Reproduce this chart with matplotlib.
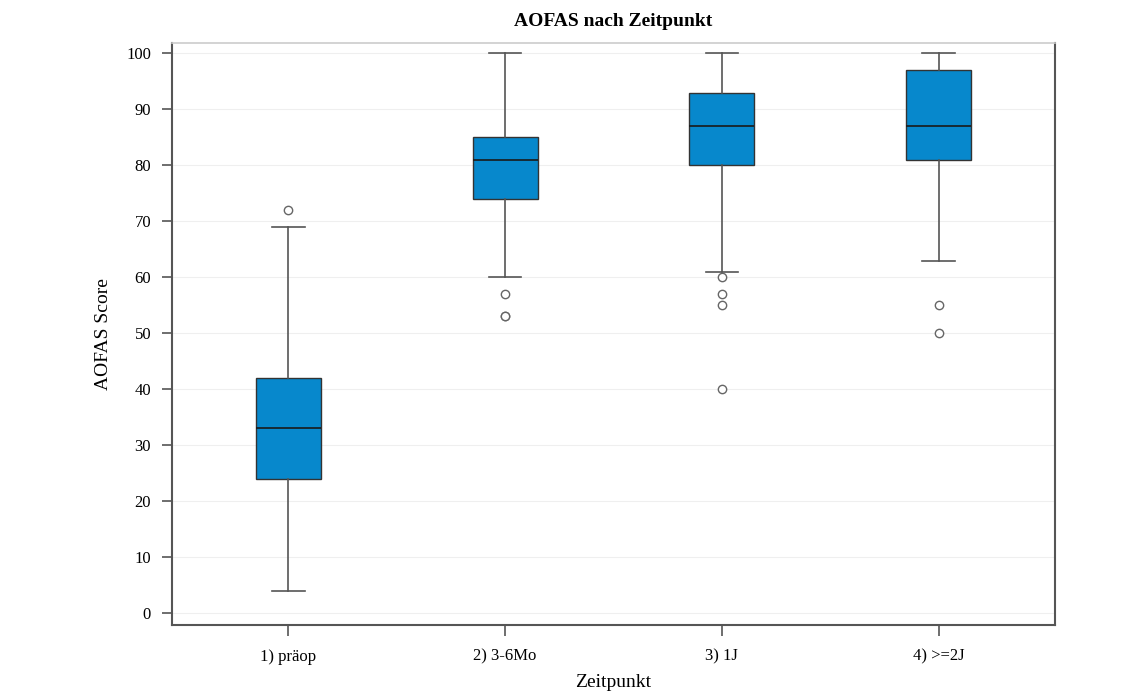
import matplotlib
matplotlib.use('Agg')

import matplotlib.pyplot as plt

# Box statistics
groups = ["1) präop", "2) 3-6Mo", "3) 1J", "4) >=2J"]
whisker_low = [4, 60, 61, 63]
q1 = [24, 74, 80, 81]
median = [33, 81, 87, 87]
q3 = [42, 85, 93, 97]
whisker_high = [69, 100, 100, 100]
outliers = [[72], [57, 53, 53], [60, 57, 55, 40], [55, 50]]

plt.rcParams['font.family'] = ['Liberation Serif', 'DejaVu Serif']

stats = []
for i, name in enumerate(groups):
    stats.append({
        "label": name,
        "whislo": whisker_low[i],
        "q1": q1[i],
        "med": median[i],
        "q3": q3[i],
        "whishi": whisker_high[i],
        "fliers": outliers[i],
    })

fig = plt.figure(figsize=(11.38, 6.92), dpi=100)
ax = fig.add_axes([0.1511, 0.0968, 0.7760, 0.8411])

line_gray = '#555555'
ax.bxp(stats, positions=[1, 2, 3, 4], widths=0.30, patch_artist=True,
       boxprops=dict(facecolor='#0788cc', edgecolor='#333333', linewidth=1.0),
       medianprops=dict(color='#1a1a1a', linewidth=1.2),
       whiskerprops=dict(color=line_gray, linewidth=1.2),
       capprops=dict(color=line_gray, linewidth=1.2),
       capwidths=0.15,
       flierprops=dict(marker='o', markerfacecolor='white', markeredgecolor='#666666',
                       markersize=6, markeredgewidth=1.0))

ax.set_xlim(0.463, 4.537)
ax.set_ylim(-2.1, 101.85)
ax.set_yticks(range(0, 101, 10))
ax.yaxis.grid(True, color='#efefef', linewidth=0.8)
ax.set_axisbelow(True)

for side in ['left', 'bottom', 'right']:
    ax.spines[side].set_color(line_gray)
    ax.spines[side].set_linewidth(1.5)
ax.spines['top'].set_color('#cccccc')
ax.spines['top'].set_linewidth(1.2)

ax.tick_params(axis='y', length=7, width=1.2, color=line_gray, labelsize=12, pad=8)
ax.tick_params(axis='x', length=8, width=1.2, color=line_gray, labelsize=12, pad=9)

ax.set_title("AOFAS nach Zeitpunkt", fontsize=14, weight='bold', pad=12)
ax.set_xlabel("Zeitpunkt", fontsize=14, labelpad=7)
ax.set_ylabel("AOFAS Score", fontsize=14, labelpad=10)

plt.savefig("out.png", dpi=100)
plt.close()
